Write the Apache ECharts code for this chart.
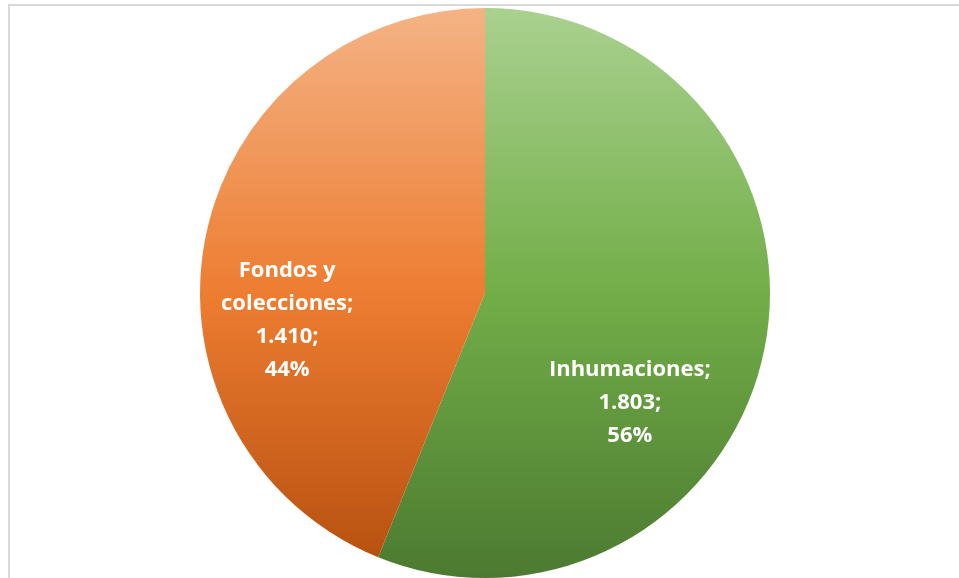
<!DOCTYPE html>
<html>
<head>
<meta charset="utf-8">
<script src="https://cdn.jsdelivr.net/npm/echarts@6/dist/echarts.min.js"></script>
<style>
html,body{margin:0;padding:0;background:#fff;}
#c{width:959px;height:578px;}
</style>
</head>
<body>
<div id="c"></div>
<script>
var categories = ['Inhumaciones', 'Fondos y colecciones'];
var values = [1803, 1410];
var percents = ['56%', '44%'];
var valueLabels = ['1.803', '1.410'];

var gradients = [
  ['#aad18f', '#72ae48', '#4c7a30'],
  ['#f4b385', '#ed7d31', '#b44e0e']
];
var labelShift = [[2, 82], [-55, 55]];

var chart = echarts.init(document.getElementById('c'), null, {renderer: 'canvas'});

var data = categories.map(function (name, i) {
  return {
    name: name,
    value: values[i],
    itemStyle: {
      color: {
        type: 'linear', global: true,
        x: 0, y: 8, x2: 0, y2: 578,
        colorStops: [
          {offset: 0, color: gradients[i][0]},
          {offset: 0.5, color: gradients[i][1]},
          {offset: 1, color: gradients[i][2]}
        ]
      }
    },
    label: {
      formatter: function () {
        return categories[i] === 'Inhumaciones'
          ? categories[i] + ';\n' + valueLabels[i] + ';\n' + percents[i]
          : 'Fondos y\ncolecciones;\n' + valueLabels[i] + ';\n' + percents[i];
      }
    }
  };
});

chart.setOption({
  animation: false,
  graphic: [{
    type: 'rect',
    shape: {x: 9, y: 5, width: 1200, height: 1200},
    style: {fill: 'none', stroke: '#d9d9d9', lineWidth: 2},
    z: -10
  }],
  series: [{
    type: 'pie',
    center: [485, 293],
    radius: [0, 285],
    startAngle: 90,
    clockwise: true,
    data: data,
    itemStyle: {borderWidth: 0},
    label: {
      show: true,
      position: 'inside',
      color: '#ffffff',
      fontFamily: 'Open Sans',
      fontWeight: 'bold',
      fontSize: 22,
      lineHeight: 33,
      align: 'center'
    },
    labelLine: {show: false},
    labelLayout: function (params) {
      var s = labelShift[params.dataIndex];
      return {dx: s[0], dy: s[1]};
    },
    emphasis: {disabled: true}
  }]
});
</script>
</body>
</html>
